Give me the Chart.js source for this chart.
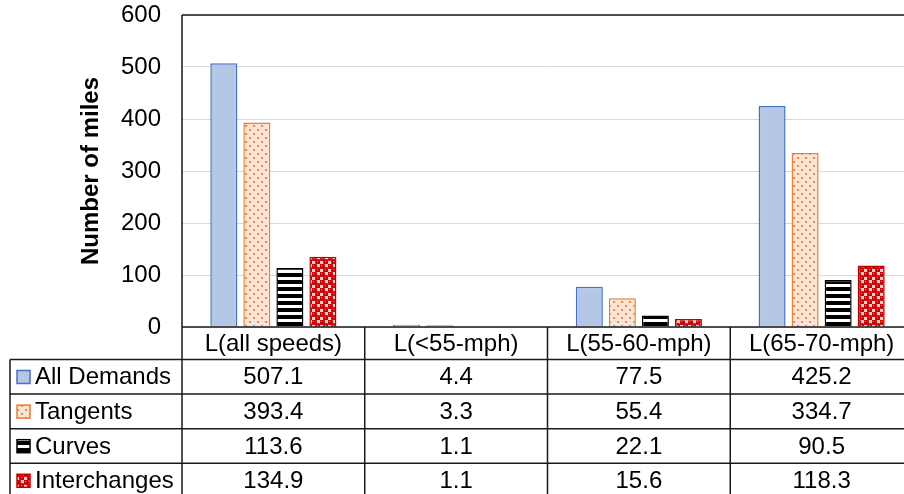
<!DOCTYPE html>
<html>
<head>
<meta charset="utf-8">
<script src="https://cdn.jsdelivr.net/npm/chart.js@4.4.1/dist/chart.umd.min.js"></script>
<style>
  html, body { margin: 0; padding: 0; background: #fff; overflow: hidden; }
  #wrap { width: 904px; height: 494px; overflow: hidden; }
  canvas { display: block; }
</style>
</head>
<body>
<div id="wrap"><canvas id="chart" width="916" height="494"></canvas></div>
<script>
const categories = ["L(all speeds)", "L(<55-mph)", "L(55-60-mph)", "L(65-70-mph)"];
const seriesNames = ["All Demands", "Tangents", "Curves", "Interchanges"];
const allDemands = [507.1, 4.4, 77.5, 425.2];
const tangents = [393.4, 3.3, 55.4, 334.7];
const curves = [113.6, 1.1, 22.1, 90.5];
const interchanges = [134.9, 1.1, 15.6, 118.3];
const yMin = 0, yMax = 600, yStep = 100;

const FONT = '"Liberation Sans", Arial, sans-serif';

// small tiles for the Excel-like fill patterns
function makeTile(w, h, draw) {
	const c = document.createElement("canvas");
	c.width = w;
	c.height = h;
	draw(c.getContext("2d"));
	return c;
}

const ctx = document.getElementById("chart").getContext("2d");

const dotFill = ctx.createPattern(makeTile(8, 8, g => {
	g.fillStyle = "#fbe5d6";
	g.fillRect(0, 0, 8, 8);
	g.fillStyle = "#ee8a4a";
	g.fillRect(1, 1, 2, 2);
	g.fillRect(5, 5, 2, 2);
}), "repeat");

const stripeFill = ctx.createPattern(makeTile(8, 7, g => {
	g.fillStyle = "#ffffff";
	g.fillRect(0, 0, 8, 7);
	g.fillStyle = "#000000";
	g.fillRect(0, 0, 8, 4);
}), "repeat");

const ballFill = ctx.createPattern(makeTile(8, 8, g => {
	g.fillStyle = "#f8d4d4";
	g.fillRect(0, 0, 8, 8);
	g.fillStyle = "#d00000";
	[[2, 2], [6, 6]].forEach(([cx, cy]) => {
		g.beginPath();
		g.arc(cx, cy, 3, 0, Math.PI * 2);
		g.fill();
	});
	g.fillStyle = "#ff9a9a";
	g.fillRect(1, 1, 1, 1);
	g.fillRect(5, 5, 1, 1);
}), "repeat");

const rows = [allDemands, tangents, curves, interchanges];

// data table drawn under the plot, lined up with the x scale
const tablePlugin = {
	id: "dataTable",
	afterDraw(chart) {
		const { ctx, chartArea: a, scales: { x } } = chart;
		const n = categories.length;
		const colW = (a.right - a.left) / n;
		const headerBottom = a.bottom + 32.5;
		const rowH = 34.6;
		const tableLeft = 10;
		const bottom = headerBottom + rowH * rows.length;

		ctx.save();
		ctx.strokeStyle = "#1a1a1a";
		ctx.lineWidth = 1.5;
		ctx.beginPath();
		// plot top + left
		ctx.moveTo(a.left, a.top);
		ctx.lineTo(a.right + 4, a.top);
		ctx.moveTo(a.left, a.top);
		ctx.lineTo(a.left, bottom + 4);
		// header top
		ctx.moveTo(a.left, a.bottom);
		ctx.lineTo(a.right + 4, a.bottom);
		// row lines
		for (let r = 0; r < rows.length; r++) {
			const y = headerBottom + r * rowH;
			ctx.moveTo(tableLeft, y);
			ctx.lineTo(a.right + 4, y);
		}
		ctx.moveTo(tableLeft, headerBottom);
		ctx.lineTo(tableLeft, bottom + 4);
		for (let i = 1; i <= n; i++) {
			const xx = a.left + colW * i;
			ctx.moveTo(xx, a.bottom);
			ctx.lineTo(xx, bottom + 4);
		}
		ctx.stroke();

		ctx.fillStyle = "#000";
		ctx.font = "24px " + FONT;
		ctx.textAlign = "center";
		ctx.textBaseline = "middle";
		categories.forEach((c, i) => {
			ctx.fillText(c, x.getPixelForValue(i), (a.bottom + headerBottom) / 2 + 1);
		});

		rows.forEach((vals, r) => {
			const top = headerBottom + r * rowH;
			const mid = top + rowH / 2 + 1;
			const ds = chart.data.datasets[r];
			// legend key
			ctx.fillStyle = ds.backgroundColor;
			ctx.fillRect(17, top + 11, 13, 13);
			ctx.strokeStyle = ds.borderColor;
			ctx.lineWidth = 1.5;
			ctx.strokeRect(17, top + 11, 13, 13);
			ctx.fillStyle = "#000";
			ctx.textAlign = "left";
			ctx.fillText(seriesNames[r], 35, mid);
			ctx.textAlign = "center";
			vals.forEach((v, i) => {
				ctx.fillText(v.toFixed(1), x.getPixelForValue(i), mid);
			});
		});
		ctx.restore();
	},
};

new Chart(ctx, {
	type: "bar",
	data: {
		labels: categories,
		datasets: [
			{
				label: seriesNames[0],
				data: allDemands,
				backgroundColor: "#b4c7e7",
				borderColor: "#4472c4",
				borderWidth: 1.5,
			},
			{
				label: seriesNames[1],
				data: tangents,
				backgroundColor: dotFill,
				borderColor: "#ed7d31",
				borderWidth: 1.5,
			},
			{
				label: seriesNames[2],
				data: curves,
				backgroundColor: stripeFill,
				borderColor: "#000000",
				borderWidth: 1.5,
			},
			{
				label: seriesNames[3],
				data: interchanges,
				backgroundColor: ballFill,
				borderColor: "#c00000",
				borderWidth: 1.5,
			},
		],
	},
	options: {
		responsive: false,
		animation: false,
		layout: {
			padding: { left: 0, right: 3, top: 15, bottom: 167 },
		},
		datasets: {
			bar: { categoryPercentage: 0.723, barPercentage: 0.818 },
		},
		plugins: {
			legend: { display: false },
			tooltip: { enabled: false },
		},
		scales: {
			x: { display: false },
			y: {
				min: yMin,
				max: yMax,
				ticks: {
					stepSize: yStep,
					padding: 21,
					color: "#000",
					font: { family: FONT, size: 24 },
				},
				grid: { color: "#d9d9d9", lineWidth: 1, drawTicks: false },
				border: { display: false },
				title: {
					display: true,
					text: "Number of miles",
					color: "#000",
					font: { family: FONT, size: 24, weight: "bold" },
					padding: { top: 77, bottom: 0 },
				},
				afterFit: s => {
					s.width = 182; // plot starts at x=182
					s.paddingTop = 0;
					s.paddingBottom = 0;
				},
			},
		},
	},
	plugins: [tablePlugin],
});
</script>
</body>
</html>
